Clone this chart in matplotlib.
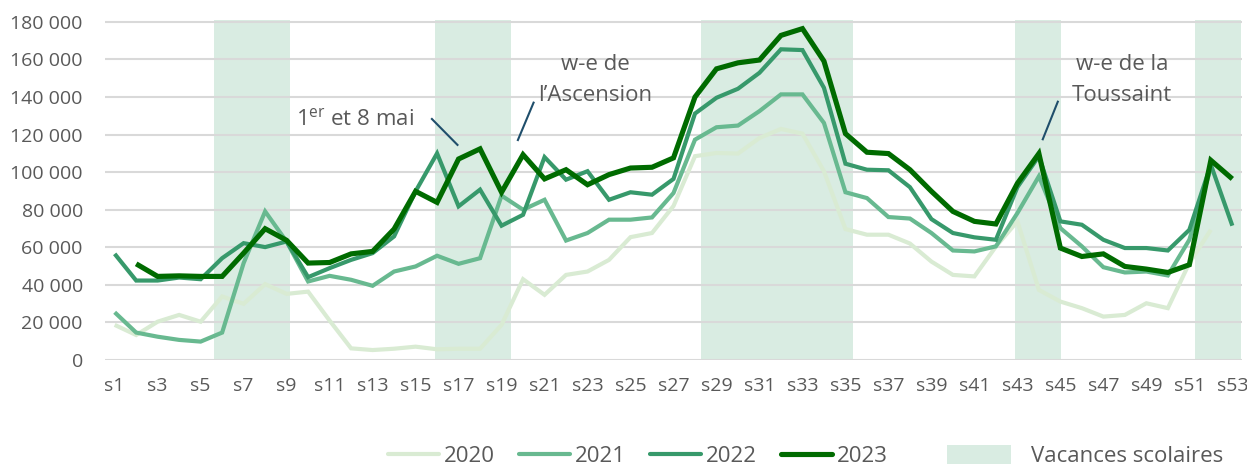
import numpy as np
import matplotlib
matplotlib.use("Agg")
import matplotlib.pyplot as plt
from matplotlib.lines import Line2D
from matplotlib.patches import Patch

plt.rcParams["font.family"] = ["Open Sans", "DejaVu Sans"]
plt.rcParams["mathtext.fontset"] = "custom"
plt.rcParams["mathtext.rm"] = "Open Sans"

nan = np.nan
weeks = np.arange(1, 54)
week_labels = [f"s{w}" for w in weeks]

# visitors per week, in thousands
v2020 = [18.7, 13.3, 20.4, 24.0, 20.4, 33.8, 29.9, 40.4, 35.2, 36.4,
         21.0, 6.2, 5.3, 6.0, 7.1, 5.7, 6.0, 6.0, 18.7, 43.0,
         34.7, 45.3, 47.1, 53.3, 65.4, 67.6, 82.0, 108.5, 110.2, 109.9,
         118.2, 123.0, 120.5, 100.5, 69.7, 66.7, 66.7, 62.0, 52.4, 45.3,
         44.5, 60.4, 73.8, 37.3, 31.1, 27.6, 23.1, 24.0, 30.2, 27.6,
         51.6, 69.3, nan]
v2021 = [25.4, 14.6, 12.4, 10.7, 9.8, 14.6, 51.6, 79.1, 63.0, 41.8,
         44.8, 42.7, 39.5, 47.1, 49.8, 55.5, 51.2, 54.2, 87.5, 80.0,
         85.3, 63.6, 67.6, 74.7, 74.7, 75.9, 88.9, 117.3, 123.9, 124.8,
         132.5, 141.4, 141.4, 126.2, 89.3, 86.2, 76.1, 75.3, 67.6, 58.3,
         57.8, 60.5, 78.2, 97.8, 70.2, 60.5, 49.4, 46.6, 47.1, 45.0,
         64.0, 102.2, nan]
v2022 = [56.5, 42.3, 42.3, 43.9, 43.0, 54.2, 62.2, 60.1, 63.1, 44.1,
         48.9, 53.3, 56.9, 65.8, 89.8, 110.0, 81.8, 90.7, 71.5, 77.3,
         108.0, 96.0, 100.5, 85.3, 89.3, 88.0, 96.4, 131.2, 139.6, 144.4,
         152.9, 165.4, 165.0, 144.9, 104.5, 101.3, 101.0, 92.0, 75.0, 67.6,
         65.3, 64.0, 92.0, 108.5, 73.8, 72.0, 64.0, 59.6, 59.6, 58.3,
         69.3, 104.0, 71.5]
v2023 = [nan, 51.2, 44.5, 44.8, 44.5, 44.5, 56.9, 69.9, 63.7, 51.6,
         51.9, 56.5, 57.8, 69.7, 89.8, 83.9, 107.0, 112.4, 89.3, 109.3,
         96.4, 101.3, 93.3, 98.7, 102.2, 102.6, 107.6, 140.0, 155.0, 158.2,
         159.7, 172.8, 176.4, 159.1, 120.5, 110.6, 109.9, 101.3, 89.8, 79.1,
         73.8, 72.4, 94.0, 109.9, 59.6, 55.1, 56.5, 49.8, 48.4, 46.6,
         50.7, 106.3, 96.4]

years = ["2020", "2021", "2022", "2023"]
series = [v2020, v2021, v2022, v2023]
colors = ["#d9ebd3", "#68b990", "#37996b", "#006b00"]
widths = [3.0, 3.0, 3.0, 3.7]

# school holidays (in week units)
vacances = [(5.64, 9.17), (15.92, 19.44), (28.29, 35.34), (42.89, 45.02), (51.27, 53.4)]
vac_color = "#d9ece2"

grey = "#595959"

fig = plt.figure(figsize=(12.47, 4.68), dpi=100)
ax = fig.add_axes([105 / 1247, 108 / 468, 1137 / 1247, 340 / 468])

for a, b in vacances:
    ax.axvspan(a, b, color=vac_color, lw=0, zorder=0.2)

for vals, c, lw in zip(series, colors, widths):
    ax.plot(weeks, np.array(vals) * 1000, color=c, lw=lw, zorder=3,
            solid_joinstyle="miter", solid_capstyle="butt")

ax.set_xlim(0.55, 53.45)
ax.set_ylim(0, 181000)
yt = np.arange(0, 180001, 20000)
ax.set_yticks(yt)
ax.set_yticklabels([f"{v:,}".replace(",", " ") for v in yt])
ax.set_xticks(weeks[::2])
ax.set_xticklabels(week_labels[::2])
ax.tick_params(axis="both", length=0, labelsize=14, colors=grey)
ax.tick_params(axis="y", pad=16)
ax.tick_params(axis="x", pad=12)
ax.set_axisbelow(True)
ax.grid(axis="y", color="#d9d9d9", lw=1.5)
for s in ax.spines.values():
    s.set_visible(False)

# annotations
note_color = "#1f4e6b"
ax.text(9.45, 125000, r"1$^{\mathrm{er}}$ et 8 mai", fontsize=16, color=grey,
        ha="left", va="baseline")
ax.plot([15.76, 16.95], [128300, 114500], color=note_color, lw=1.5, zorder=4)

ax.text(23.36, 154400, "w-e de", fontsize=16, color=grey, ha="center", va="baseline")
ax.text(23.36, 137900, "l\u2019Ascension", fontsize=16, color=grey, ha="center", va="baseline")
ax.plot([20.49, 19.76], [137000, 117100], color=note_color, lw=1.5, zorder=4)

ax.text(47.86, 154400, "w-e de la", fontsize=16, color=grey, ha="center", va="baseline")
ax.text(47.86, 137900, "Toussaint", fontsize=16, color=grey, ha="center", va="baseline")
ax.plot([44.88, 44.18], [137500, 117500], color=note_color, lw=1.5, zorder=4)

# legend
line_handles = [Line2D([], [], color=c, lw=lw, solid_capstyle="round")
                for c, lw in zip(colors, widths)]
leg1 = fig.legend(line_handles, years, loc="center", ncol=4, frameon=False,
                  bbox_to_anchor=(638 / 1247, 12 / 468), fontsize=16,
                  handlelength=2.3, handletextpad=0.2, columnspacing=1.1,
                  borderpad=0, labelcolor=grey)
leg2 = fig.legend([Patch(color=vac_color, lw=0)], ["Vacances scolaires"], loc="center",
                  frameon=False, bbox_to_anchor=(1085 / 1247, 12 / 468), fontsize=16,
                  handlelength=2.9, handleheight=0.9, handletextpad=0.9,
                  borderpad=0, labelcolor=grey)

fig.savefig("out.png", dpi=100)
